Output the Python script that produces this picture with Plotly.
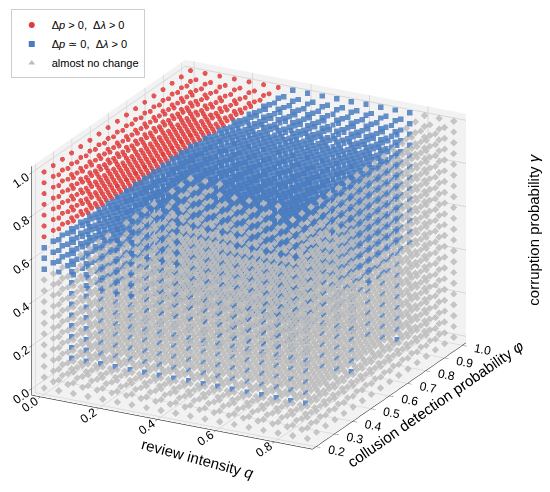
import plotly.graph_objects as go

# ---- grid values ----
Q_VALUES = [0.00, 0.05, 0.10, 0.15, 0.20, 0.25, 0.30, 0.35, 0.40, 0.45,
            0.50, 0.55, 0.60, 0.65, 0.70, 0.75, 0.80, 0.85, 0.90]
PHI_VALUES = [0.20, 0.25, 0.30, 0.35, 0.40, 0.45, 0.50, 0.55, 0.60,
              0.65, 0.70, 0.75, 0.80, 0.85, 0.90, 0.95, 1.00]
GAMMA_VALUES = [0.00, 0.05, 0.10, 0.15, 0.20, 0.25, 0.30, 0.35, 0.40, 0.45, 0.50,
                0.55, 0.60, 0.65, 0.70, 0.75, 0.80, 0.85, 0.90, 0.95, 1.00]

# region boundaries (per q value)
RED_MIN_GAMMA = [0.70, 0.75, 0.80, 0.85, 0.90, 0.95, 1.00, None, None, None,
                 None, None, None, None, None, None, None, None, None]
BLUE_MIN_GAMMA = [0.55, 0.55, 0.55, 0.50, 0.50, 0.50, 0.50, 0.45, 0.45, 0.45,
                  0.45, 0.45, 0.40, 0.40, 0.40, 0.40, 0.40, None, None]
# largest q still showing a change, per phi value
BLUE_MAX_Q = [0.80, 0.80, 0.80, 0.80, 0.80, 0.80, 0.80, 0.80, 0.80,
              0.80, 0.80, 0.80, 0.80, 0.80, 0.75, 0.75, 0.75]
# phi layers where the change reaches the low-gamma part of the cube
BLUE_SHEET_PHI = [0.35, 0.60, 0.85]
SHEET_MIN_GAMMA = 0.05

LEGEND_NAMES = ["Δ<i>p</i> > 0,  Δ<i>λ</i> > 0",
                "Δ<i>p</i> ≃ 0,  Δ<i>λ</i> > 0",
                "almost no change"]
X_TITLE = "review intensity <i>q</i>"
Z_TITLE = "corruption probability <i>γ</i>"

red = ([], [], [])
blue = ([], [], [])
grey = ([], [], [])
for i, q in enumerate(Q_VALUES):
    for j, phi in enumerate(PHI_VALUES):
        for g in GAMMA_VALUES:
            rmin = RED_MIN_GAMMA[i]
            bmin = BLUE_MIN_GAMMA[i]
            if rmin is not None and g >= rmin - 1e-9:
                tgt = red
            elif bmin is not None and q <= BLUE_MAX_Q[j] + 1e-9 and (
                    g >= bmin - 1e-9 or
                    (any(abs(phi - s) < 1e-9 for s in BLUE_SHEET_PHI) and g >= SHEET_MIN_GAMMA - 1e-9)):
                tgt = blue
            else:
                tgt = grey
            tgt[0].append(q)
            tgt[1].append(phi)
            tgt[2].append(g)

COLORS = ["#e23b3b", "#4a7cc0", "#bdbdbd"]
SYMBOLS3D = ["circle", "square", "diamond"]
SIZES3D = [2.9, 2.8, 2.4]
SYMBOLS2D = ["circle", "square", "triangle-up"]
groups = [red, blue, grey]

fig = go.Figure()
for k, pts in enumerate(groups):
    fig.add_trace(go.Scatter3d(
        x=pts[0], y=pts[1], z=pts[2], mode="markers",
        marker=dict(size=SIZES3D[k], color=COLORS[k], symbol=SYMBOLS3D[k],
                    opacity=0.85, line=dict(width=0)),
        name=LEGEND_NAMES[k], legendgroup=str(k), showlegend=False))
for k in range(3):
    fig.add_trace(go.Scatter(
        x=[None], y=[None], mode="markers",
        marker=dict(size=6, color=COLORS[k], symbol=SYMBOLS2D[k]),
        name=LEGEND_NAMES[k], legendgroup=str(k), showlegend=True))

axis_common = dict(showbackground=True, backgroundcolor="rgb(242,242,242)",
                   gridcolor="rgb(215,215,215)", zeroline=False,
                   showline=True, linecolor="black", ticks="outside",
                   tickfont=dict(size=12, color="black"), tickformat=".1f",
                   showspikes=False)

fig.update_layout(
    width=550, height=492,
    margin=dict(l=0, r=0, t=0, b=0),
    paper_bgcolor="white", plot_bgcolor="white",
    font=dict(family="Liberation Sans, Arial, sans-serif", color="black"),
    xaxis=dict(visible=False), yaxis=dict(visible=False),
    legend=dict(x=0.005, y=0.997, xanchor="left", yanchor="top",
                bgcolor="white", bordercolor="rgb(205,205,205)", borderwidth=1,
                font=dict(size=11), tracegroupgap=0),
    annotations=[
        dict(text=Z_TITLE, textangle=-90, x=0.955, y=0.55, xanchor="center", yanchor="middle",
             xref="paper", yref="paper", showarrow=False,
             font=dict(size=15, color="black")),
        dict(text=X_TITLE, textangle=15, x=0.345, y=0.085, xanchor="center", yanchor="middle",
             xref="paper", yref="paper", showarrow=False,
             font=dict(size=15, color="black")),
    ],
    scene=dict(
        domain=dict(x=[0.0, 1.0], y=[0.0, 1.0]),
        xaxis=dict(title=dict(text=""),
                   range=[-0.03, 0.93], tickvals=[0.0, 0.2, 0.4, 0.6, 0.8], **axis_common),
        yaxis=dict(title=dict(text="collusion detection probability <i>φ</i>", font=dict(size=15)),
                   range=[0.18, 1.02], tickvals=[0.2, 0.3, 0.4, 0.5, 0.6, 0.7, 0.8, 0.9, 1.0],
                   **axis_common),
        zaxis=dict(title=dict(text=""),
                   range=[-0.03, 1.03], tickvals=[0.0, 0.2, 0.4, 0.6, 0.8, 1.0], **axis_common),
        aspectmode="manual", aspectratio=dict(x=1.29, y=1.34, z=1.0),
        camera=dict(eye=dict(x=1.0, y=-1.6, z=0.74), center=dict(x=0.12, y=0.07, z=-0.0),
                    projection=dict(type="orthographic")),
    ),
)

fig.write_html("out.html")
